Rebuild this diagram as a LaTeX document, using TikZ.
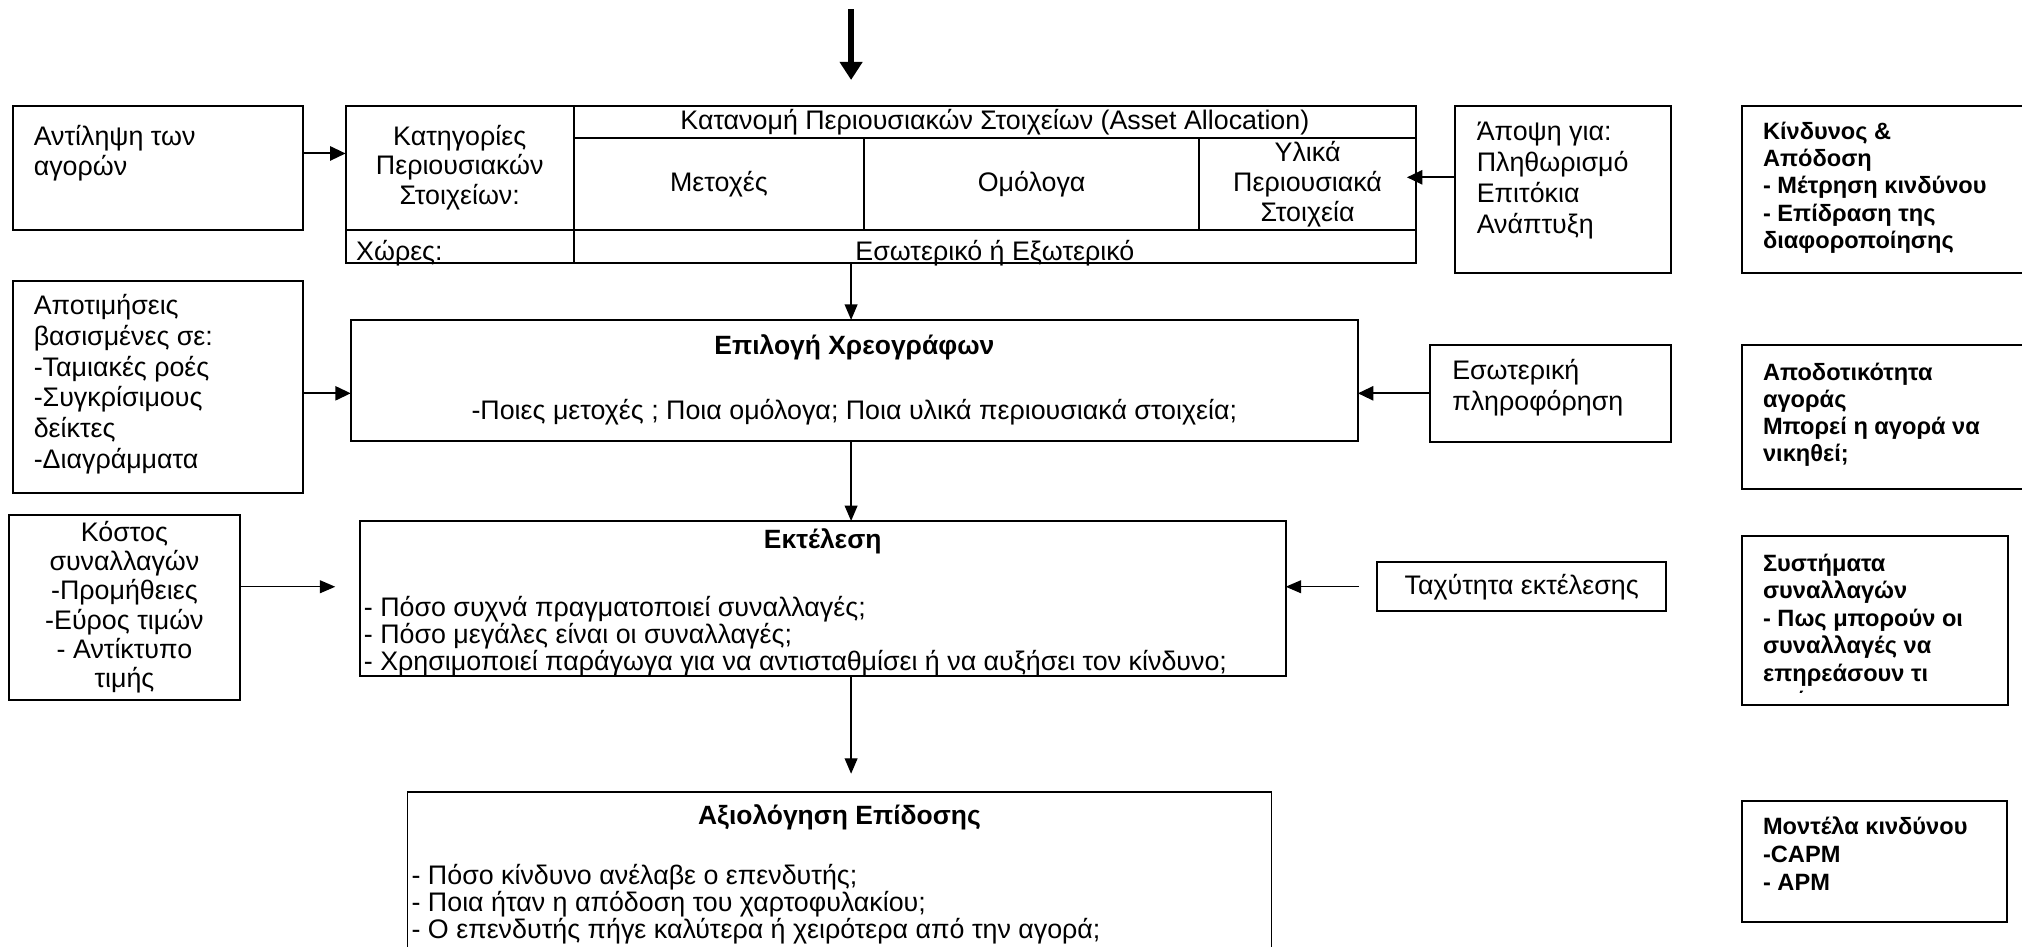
\documentclass[tikz,border=0pt]{standalone}
\usepackage{fontspec}
\setmainfont{Liberation Sans}
\usetikzlibrary{arrows.meta}

\newcommand\plainfont{\fontsize{20.8}{23.2}\selectfont}
\newcommand\strongfont{\fontsize{18.3}{21.3}\selectfont\bfseries}
\newcommand\titlefont{\fontsize{20.5}{23}\selectfont\bfseries}

\begin{document}
\begin{tikzpicture}
		[
			x=1pt, y=-1pt,
			box/.style={draw, line width=1.5pt, anchor=north west, inner sep=0pt, outer sep=0pt},
			cell/.style={draw, line width=1.5pt, anchor=north west, inner sep=0pt, outer sep=0pt, align=center, font=\plainfont},
			txt/.style={inner sep=0pt, anchor=base west, align=left, font=\plainfont},
			btxt/.style={inner sep=0pt, anchor=base west, align=left, font=\strongfont},
			title/.style={inner sep=0pt, anchor=base, font=\titlefont},
			arr/.style={-{Triangle[length=12pt,width=11pt]}, line width=1.6pt},
			thinarr/.style={-{Triangle[length=12pt,width=10pt]}, line width=1.1pt},
		]

		\useasboundingbox (0,0) rectangle (1568,734);
		\clip (0,0) rectangle (1568,734);

		% Boxes
		\foreach \name/\x/\y/\w/\h in
		{
			percept/10/82/225/96,
			valuation/10/218/225/164,
			costs/7/399/179/144,
			select/272/248/781/94,
			exec/279/404/718/120,
			perf/316/614/670/160,
			view/1128/82/168/130,
			insider/1109/267.5/187/75,
			speed/1068/436/224/38,
			risk/1351/82/230/130,
			eff/1351/267.5/230/111.5,
			systems/1351/416/206/131,
			models/1351/621/205/94
		}
			\node[box, minimum width=\w pt, minimum height=\h pt] (\name) at (\x,\y) {};

		% Allocation table
		\foreach \name/\x/\y/\w/\h/\celltext in
		{
			cat/268/82/177/96/{Κατηγορίες\\Περιουσιακών\\Στοιχείων:},
			head/445/82/653/25/{Κατανομή Περιουσιακών Στοιχείων (Asset Allocation)},
			stocks/445/107/225/71/{Μετοχές},
			bonds/670/107/260/71/{Ομόλογα},
			real/930/107/168/71/{Υλικά\\Περιουσιακά\\Στοιχεία},
			countries/268/178/177/26/{},
			home/445/178/653/26/{}
		}
			\node[cell, minimum width=\w pt, minimum height=\h pt] (\name) at (\x,\y) {\celltext};
		\node[txt] (t-countries) at (276,202) {Χώρες:};
		\node[txt, anchor=base] (t-home) at (771.5,202) {Εσωτερικό ή Εξωτερικό};

		% Texts (multi-line nodes sit on the baseline of their last line)
		\node[txt] (t-percept) at (26,136.2) {Αντίληψη των\\αγορών};
		\node[txt, font=\fontsize{20.8}{23.8}\selectfont] (t-valuation) at (26,363)
			{Αποτιμήσεις\\βασισμένες σε:\\-Ταμιακές ροές\\-Συγκρίσιμους\\δείκτες\\-Διαγράμματα};
		\node[txt, anchor=base, align=center, font=\fontsize{20.8}{22.6}\selectfont] (t-costs) at (96.5,533)
			{Κόστος\\συναλλαγών\\-Προμήθειες\\-Εύρος τιμών\\- Αντίκτυπο\\τιμής};

		\node[title] (t-select) at (662.5,275) {Επιλογή Χρεογράφων};
		\node[txt, anchor=base] (q-select) at (662.5,325)
			{-Ποιες μετοχές ; Ποια ομόλογα; Ποια υλικά περιουσιακά στοιχεία;};

		\node[title] (t-exec) at (638,425) {Εκτέλεση};
		\node[txt, font=\fontsize{20.8}{21}\selectfont] (q-exec) at (282,520)
			{- Πόσο συχνά πραγματοποιεί συναλλαγές;\\- Πόσο μεγάλες είναι οι συναλλαγές;\\- Χρησιμοποιεί παράγωγα για να αντισταθμίσει ή να αυξήσει τον κίνδυνο;};

		\node[title] (t-perf) at (651,639) {Αξιολόγηση Επίδοσης};
		\node[txt, font=\fontsize{20.8}{21}\selectfont] (q-perf) at (319,728)
			{- Πόσο κίνδυνο ανέλαβε ο επενδυτής;\\- Ποια ήταν η απόδοση του χαρτοφυλακίου;\\- Ο επενδυτής πήγε καλύτερα ή χειρότερα από την αγορά;};

		\node[txt, font=\fontsize{20.8}{24}\selectfont] (t-view) at (1145,181)
			{Άποψη για:\\Πληθωρισμό\\Επιτόκια\\Ανάπτυξη};
		\node[txt, font=\fontsize{20.8}{24.7}\selectfont] (t-insider) at (1126,318.7)
			{Εσωτερική\\πληροφόρηση};
		\node[txt, anchor=center] (t-speed) at (speed.center) {Ταχύτητα εκτέλεσης};

		\node[btxt] (t-risk) at (1367,193)
			{Κίνδυνος \&\\Απόδοση\\- Μέτρηση κινδύνου\\- Επίδραση της\\διαφοροποίησης};
		\node[btxt, font=\fontsize{18.3}{21}\selectfont\bfseries] (t-eff) at (1367,358)
			{Αποδοτικότητα\\αγοράς\\Μπορεί η αγορά να\\νικηθεί;};
		\begin{scope}
			\clip (1351,416) rectangle (1557,537);
			\node[btxt] (t-systems) at (1367,549.5)
				{Συστήματα\\συναλλαγών\\- Πως μπορούν οι\\συναλλαγές να\\επηρεάσουν τι\\τιμές};
		\end{scope}
		\node[btxt, font=\fontsize{18.3}{21.6}\selectfont\bfseries] (t-models) at (1367,690.2)
			{Μοντέλα κινδύνου\\-CAPM\\- APM};

		% Edges
		\coordinate (spine) at (660,7);
		\draw[-{Triangle[length=14pt,width=17pt]}, line width=4.5pt, shorten >=20pt] (spine) -- (spine |- head.north);
		\draw[thinarr] (home.south -| spine) -- (select.north -| spine);
		\draw[thinarr] (select.south -| spine) -- (exec.north -| spine);
		\draw[thinarr, shorten >=14pt] (exec.south -| spine) -- (perf.north -| spine);

		\draw[arr] ([yshift=11pt]percept.east) -- ([yshift=11pt]percept.east -| cat.west);
		\draw[arr] ([yshift=-5pt]valuation.east) -- ([yshift=-5pt]valuation.east -| select.west);
		\draw[arr, shorten >=-7pt] ([yshift=9.5pt]view.west) -- ([yshift=9.5pt]view.west -| real.east);
		\draw[arr] (insider.west) -- (insider.west -| select.east);
		\draw[thinarr, shorten >=19pt] ([yshift=16pt]costs.east) -- ([yshift=16pt]costs.east -| exec.west);
		\draw[thinarr, shorten <=14pt] (speed.west) -- (speed.west -| exec.east);

		\end{tikzpicture}
\end{document}
